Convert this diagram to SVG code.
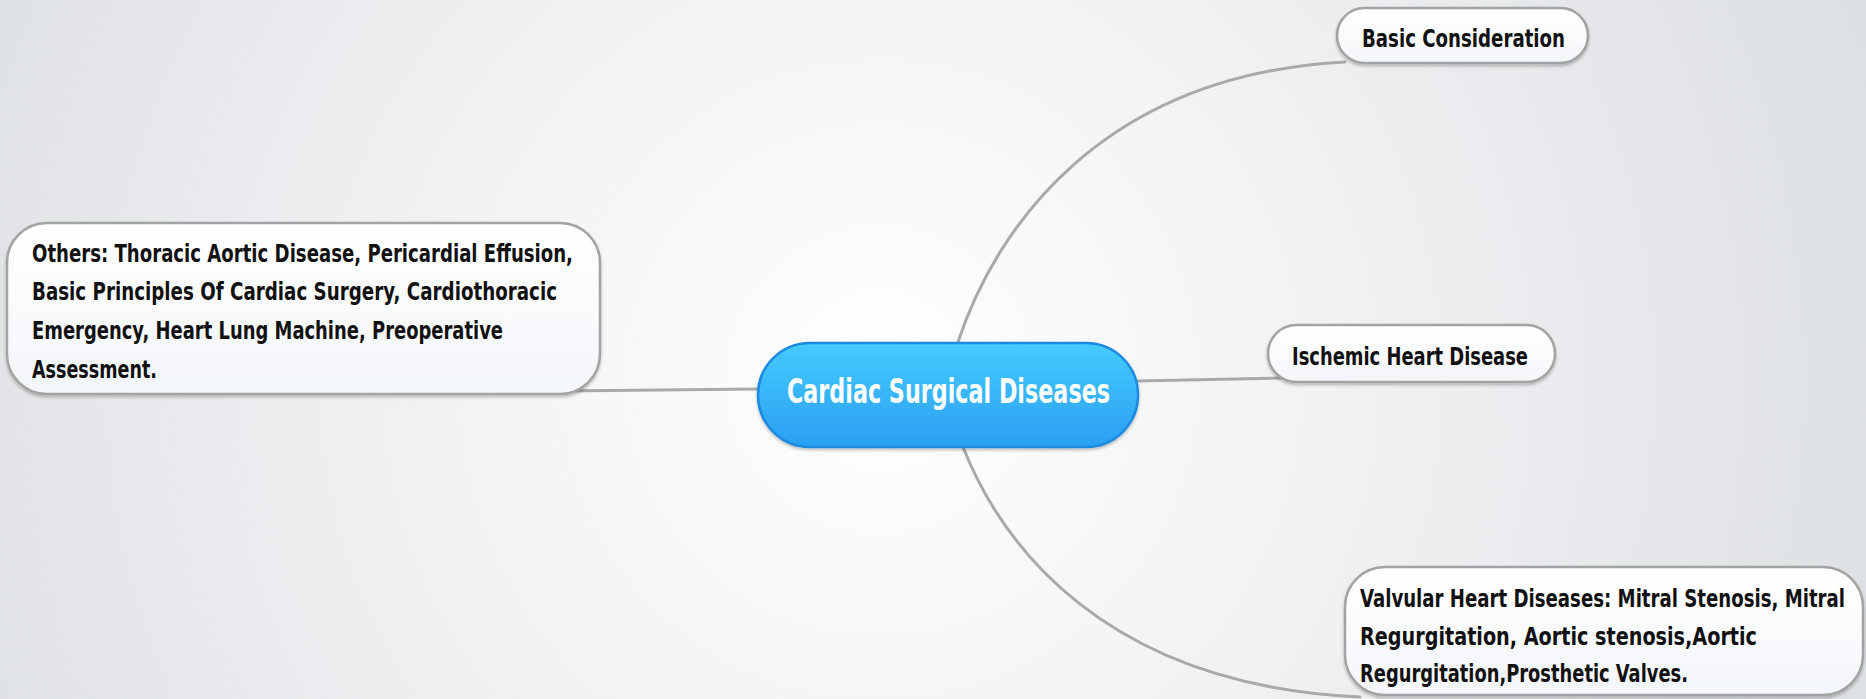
<svg xmlns="http://www.w3.org/2000/svg" width="1866" height="699" viewBox="0 0 1866 699">
  <defs>
    <radialGradient id="bg" cx="880" cy="380" r="1050" gradientUnits="userSpaceOnUse">
      <stop offset="0" stop-color="#ffffff"/>
      <stop offset="0.55" stop-color="#eceef0"/>
      <stop offset="1" stop-color="#dcdfe3"/>
    </radialGradient>
    <linearGradient id="blue" x1="0" y1="0" x2="0" y2="1">
      <stop offset="0" stop-color="#45cbff"/>
      <stop offset="1" stop-color="#2a9ff2"/>
    </linearGradient>
    <linearGradient id="white" x1="0" y1="0" x2="0" y2="1">
      <stop offset="0" stop-color="#ffffff"/>
      <stop offset="1" stop-color="#f3f6fa"/>
    </linearGradient>
    <filter id="sh" x="-10%" y="-20%" width="120%" height="150%">
      <feDropShadow dx="0" dy="2" stdDeviation="1.5" flood-color="#000" flood-opacity="0.25"/>
    </filter>
    <style>
      .conn { fill: none; stroke: #a9a9a9; stroke-width: 3; stroke-linecap: round; }
      .box { fill: url(#white); stroke: #a3a3a3; stroke-width: 2.5; filter: url(#sh); }
      .main { fill: url(#blue); stroke: #1d8ae0; stroke-width: 2.5; filter: url(#sh); }
      .t { font-family: "DejaVu Sans Condensed", "DejaVu Sans", sans-serif; font-weight: bold; font-size: 24px; fill: #111111; }
      .tm { font-family: "DejaVu Sans Condensed", "DejaVu Sans", sans-serif; font-weight: bold; font-size: 34px; fill: #ffffff; }
    </style>
  </defs>
  <rect x="0" y="0" width="1866" height="699" fill="url(#bg)"/>

  <g id="connectors">
    <path class="conn" d="M958,342 C995,230 1100,75 1345,62"/>
    <path class="conn" d="M1138,381 L1282,378"/>
    <path class="conn" d="M963,447 C1000,540 1100,685 1360,697"/>
    <path class="conn" d="M758,389 L560,391"/>
  </g>

  <g id="node-basic">
    <rect class="box" x="1337" y="8" width="251" height="55" rx="27.5"/>
    <text class="t" x="1362" y="47" font-size="25" textLength="203" lengthAdjust="spacingAndGlyphs">Basic Consideration</text>
  </g>

  <g id="node-ischemic">
    <rect class="box" x="1268" y="325" width="287" height="57" rx="28.5"/>
    <text class="t" x="1292" y="365" font-size="25" textLength="236" lengthAdjust="spacingAndGlyphs">Ischemic Heart Disease</text>
  </g>

  <g id="node-valvular">
    <rect class="box" x="1345" y="567" width="518" height="128" rx="40"/>
    <text class="t" x="1360" y="607" textLength="485" lengthAdjust="spacingAndGlyphs">Valvular Heart Diseases: Mitral Stenosis, Mitral</text>
    <text class="t" x="1360" y="645" textLength="397" lengthAdjust="spacingAndGlyphs">Regurgitation, Aortic stenosis,Aortic</text>
    <text class="t" x="1360" y="682" textLength="328" lengthAdjust="spacingAndGlyphs">Regurgitation,Prosthetic Valves.</text>
  </g>

  <g id="node-others">
    <rect class="box" x="7" y="223" width="593" height="171" rx="40"/>
    <text class="t" x="32" y="262" textLength="541" lengthAdjust="spacingAndGlyphs">Others: Thoracic Aortic Disease, Pericardial Effusion,</text>
    <text class="t" x="32" y="300" textLength="525" lengthAdjust="spacingAndGlyphs">Basic Principles Of Cardiac Surgery, Cardiothoracic</text>
    <text class="t" x="32" y="339" textLength="471" lengthAdjust="spacingAndGlyphs">Emergency, Heart Lung Machine, Preoperative</text>
    <text class="t" x="32" y="378" textLength="125" lengthAdjust="spacingAndGlyphs">Assessment.</text>
  </g>

  <g id="node-central">
    <rect class="main" x="758" y="343" width="380" height="104" rx="52"/>
    <text class="tm" x="787" y="403" textLength="323" lengthAdjust="spacingAndGlyphs">Cardiac Surgical Diseases</text>
  </g>
</svg>
